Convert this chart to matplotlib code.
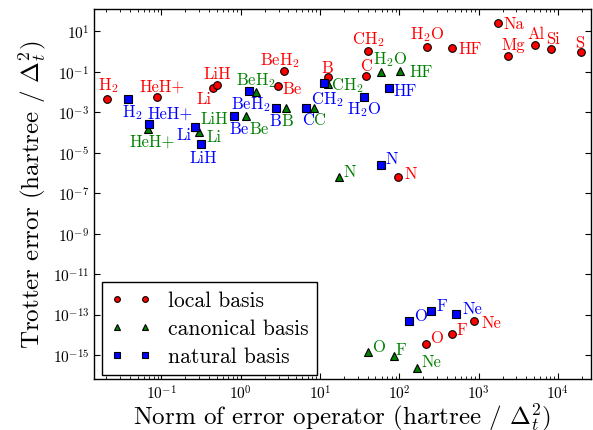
import numpy as np
import matplotlib
matplotlib.use("Agg")
import matplotlib.pyplot as plt
from matplotlib.ticker import FixedLocator, NullLocator

# =========================
# DATA
# =========================
local_names = ["H$_2$", "HeH+", "Li", "LiH", "BeH$_2$", "Be", "B", "CH$_2$", "C",
               "H$_2$O", "HF", "N", "Na", "Mg", "Al", "Si", "S", "O", "F", "Ne"]
local_norm = [0.0208, 0.0887, 0.443, 0.507, 3.52, 2.98, 12.5, 40.7, 37.7,
              225, 458, 95.5, 1775, 2330, 5140, 8260, 19400, 217, 462, 875]
local_err = [4.5e-3, 5.9e-3, 0.0152, 0.0222, 0.105, 0.0191, 0.0532, 1.03, 0.0597,
             1.67, 1.44, 6.1e-7, 24.8, 0.622, 2.18, 1.29, 0.916, 3.6e-15, 1.05e-14, 4.6e-14]

canon_names = ["HeH+", "Li", "LiH", "BeH$_2$", "Be", "B", "C", "CH$_2$", "H$_2$O",
               "HF", "N", "O", "F", "Ne"]
canon_norm = [0.0684, 0.295, 0.27, 1.56, 1.17, 3.72, 8.47, 12.6, 58.8,
              102, 17.4, 40.6, 85, 167]
canon_err = [1.48e-4, 1.0e-4, 1.8e-4, 0.0103, 6.7e-4, 1.56e-3, 1.67e-3, 0.0248, 0.1007,
             0.109, 6.1e-7, 1.35e-15, 8.6e-16, 2.35e-16]

nat_names = ["H$_2$", "HeH+", "Li", "LiH", "BeH$_2$", "Be", "B", "C", "CH$_2$",
             "H$_2$O", "HF", "N", "O", "F", "Ne"]
nat_norm = [0.0383, 0.0698, 0.268, 0.318, 1.26, 0.823, 2.81, 6.71, 11.1,
            36.2, 74.8, 58.8, 132, 251, 519]
nat_err = [4.5e-3, 2.6e-4, 1.86e-4, 2.7e-5, 0.0116, 6.7e-4, 1.56e-3, 1.67e-3, 0.0269,
           5.5e-3, 0.0157, 2.55e-6, 4.9e-14, 1.55e-13, 1.1e-13]

# label offsets in pixels (dx, dy)
local_off = [(1, 14), (5, 11), (-9, -10), (0, 12), (-4, 12), (14, -2), (0, 10), (0, 13),
             (0, 11), (0, 13), (18, 0), (13, 4), (15, 0), (6, 11), (1, 11), (2, 11),
             (-1, 10), (11, 6), (10, 5), (17, -1)]
canon_off = [(4, -12.5), (15, -4), (19, 9), (0, 12), (13, -13), (1, -12), (5, -12),
             (19, -1), (9.5, 12.7), (21.5, 0), (11, 6), (10, 6), (7, 7), (14.5, 6)]
nat_off = [(4, -13), (21.5, 11), (-11, -7.5), (2, -13), (2, -13), (5, -13), (-1, -12),
           (2, -12), (4, -15), (0, -11), (16, -2), (11, 6), (11.5, 5), (10.5, 5), (16.5, 5)]

# =========================
# STYLE
# =========================
plt.rcParams['font.family'] = 'serif'
plt.rcParams['font.serif'] = ['cmr10']
plt.rcParams['mathtext.fontset'] = 'cm'
plt.rcParams['axes.formatter.use_mathtext'] = True

fig = plt.figure(figsize=(5.93, 4.31), dpi=100)
ax = fig.add_axes([94 / 593, 1 - 380 / 431, (591 - 94) / 593, (380 - 10) / 431])

series = [
    (local_names, local_norm, local_err, local_off, 'o', 'r', 'local basis'),
    (canon_names, canon_norm, canon_err, canon_off, '^', 'g', 'canonical basis'),
    (nat_names, nat_norm, nat_err, nat_off, 's', 'b', 'natural basis'),
]

for names, xs, ys, offs, mk, col, lab in series:
    ax.plot(xs, ys, linestyle='none', marker=mk, color=col, markersize=5.5,
            markeredgecolor='k', markeredgewidth=0.8, label=lab)
    for name, x, y, off in zip(names, xs, ys, offs):
        ax.annotate(name, (x, y), xytext=off, textcoords='offset pixels',
                    ha='center', va='center', color=col, fontsize=12)

ax.set_xscale('log')
ax.set_yscale('log')
ax.set_xlim(0.01413, 26100)
ax.set_ylim(6.5e-17, 126)

ax.yaxis.set_major_locator(FixedLocator(10.0 ** np.arange(-15, 3, 2)))
ax.yaxis.set_minor_locator(NullLocator())

ax.tick_params(which='both', direction='in', top=True, right=True, labelsize=11)
ax.tick_params(which='major', length=4, width=0.8)
ax.tick_params(which='minor', length=2, width=0.6)
ax.tick_params(axis='x', pad=3)
for sp in ax.spines.values():
    sp.set_linewidth(1.0)

ax.set_xlabel("Norm of error operator (hartree / $\\Delta_t^2$)", fontsize=18, labelpad=-1)
ax.set_ylabel("Trotter error (hartree / $\\Delta_t^2$)", fontsize=18, labelpad=3)

leg = ax.legend(loc='lower left', bbox_to_anchor=(0.016, 0.011), borderaxespad=0,
                numpoints=2, markerscale=0.75, fontsize=15.5, fancybox=False,
                framealpha=1, edgecolor='k', handlelength=1.9, handletextpad=0.77,
                labelspacing=0.4, borderpad=0.4)
leg.get_frame().set_linewidth(1.0)

fig.savefig("out.png", dpi=100)
